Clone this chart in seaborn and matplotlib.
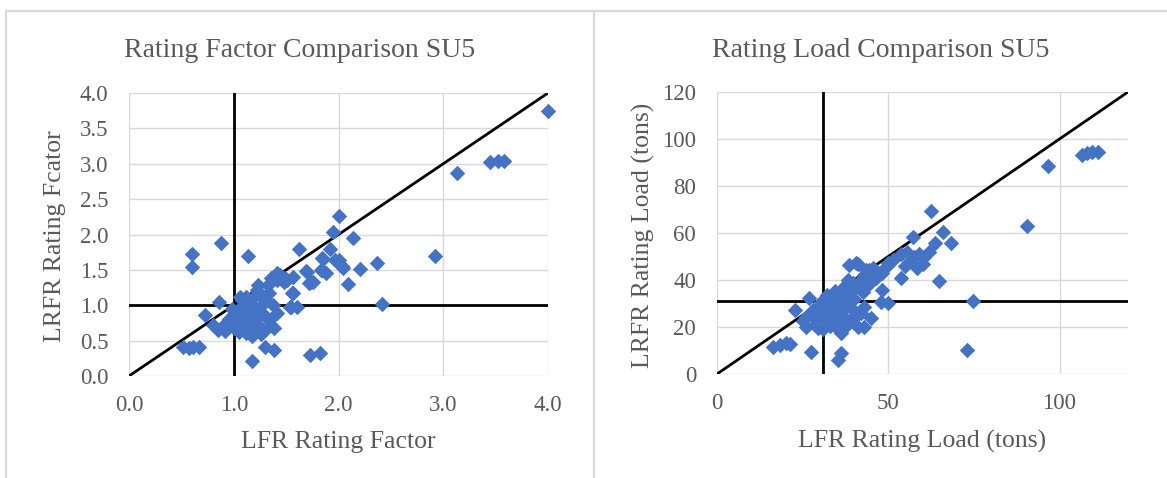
import matplotlib
matplotlib.use("Agg")
import matplotlib.pyplot as plt
from matplotlib.lines import Line2D
import seaborn as sns
import pandas as pd

# ---- Rating factor comparison (LFR vs LRFR) ----
rf_lfr = [4.00, 3.45, 3.52, 3.58, 3.13, 2.92, 2.42, 2.37, 2.21, 2.14, 2.09, 2.04,
          2.00, 2.00, 1.95, 1.92, 1.88, 1.84, 1.84, 1.82, 1.73, 1.76, 1.72, 1.69,
          1.62, 1.60, 1.54, 1.57, 1.57, 1.51, 1.48, 1.41, 1.36, 1.33, 1.38, 1.30,
          1.17, 1.14, 0.88, 0.60, 0.60, 0.86, 0.73, 0.52, 0.57, 0.61, 0.67,
          0.80, 0.85, 0.92, 0.98, 1.03, 1.07, 1.12, 1.17, 1.23, 1.30, 1.36, 1.34,
          1.41, 1.31, 1.22, 1.15, 1.08, 1.12, 1.22, 1.23, 1.30, 1.34, 1.41, 1.44,
          1.49, 1.55, 1.56, 1.70, 1.74, 1.83, 1.85, 1.97, 2.03,
          0.95, 1.00, 1.05, 1.10, 1.15, 1.18, 0.90, 0.94, 1.00, 1.05, 1.10, 1.20,
          1.26, 1.28, 1.38, 1.25, 1.19, 1.06, 1.12, 1.27, 1.37, 1.02, 0.98, 1.13,
          1.18]
rf_lrfr = [3.74, 3.02, 3.04, 3.04, 2.87, 1.70, 1.02, 1.60, 1.51, 1.95, 1.30, 1.52,
           1.64, 2.26, 2.04, 1.80, 1.45, 1.67, 1.50, 0.33, 0.30, 1.33, 1.32, 1.49,
           1.80, 0.98, 0.98, 1.18, 1.40, 1.36, 1.33, 1.45, 1.38, 1.29, 0.37, 0.41,
           0.21, 1.69, 1.88, 1.73, 1.54, 1.05, 0.86, 0.41, 0.40, 0.41, 0.41,
           0.72, 0.65, 0.63, 0.72, 0.79, 0.70, 0.61, 0.56, 0.72, 0.65, 0.72, 0.79,
           0.89, 0.83, 0.89, 0.92, 1.07, 1.12, 1.22, 1.29, 1.07, 1.17, 1.36, 1.43,
           1.38, 0.98, 1.18, 1.47, 1.33, 1.50, 1.66, 1.64, 1.55,
           0.80, 0.88, 0.95, 1.00, 1.05, 1.10, 0.70, 0.75, 0.68, 0.62, 0.75, 0.80,
           0.60, 0.88, 0.68, 1.15, 0.97, 1.11, 0.88, 1.00, 1.00, 0.90, 0.95, 0.80,
           0.68]

# ---- Rating load comparison (tons) ----
load_lfr = [106.5, 108.0, 109.5, 111.2, 96.6, 90.5, 74.7, 73.1, 68.4, 66.1, 64.8,
            63.6, 62.4, 62.0, 60.5, 59.0, 58.5, 57.1, 56.1, 55.6, 53.7, 53.7, 49.8,
            48.3, 48.3, 47.9, 49.8, 46.4, 44.5, 43.0, 40.6, 38.6, 41.9, 39.6, 37.7,
            36.7, 35.7, 33.8, 33.3, 31.9, 27.0, 22.7, 27.9, 26.0, 26.0, 29.4, 27.5,
            16.4, 18.3, 20.1, 21.2, 35.3, 36.2, 33.8, 36.2, 34.8, 39.1, 41.1, 43.0,
            42.0, 43.0, 39.6, 37.7, 38.6, 38.2, 40.6, 43.5, 45.5, 49.3, 41.1,
            30.5, 31.5, 32.5, 33.0, 34.0, 35.0, 36.5, 37.5, 29.0, 28.5, 31.0, 32.0,
            34.5, 35.5, 36.0, 38.0, 40.0, 42.5, 44.0, 30.0, 33.0, 37.0, 40.5, 27.5,
            25.0, 45.0, 46.5, 51.5, 55.0, 60.0, 57.5, 30.5]
load_lrfr = [93.2, 93.9, 94.6, 94.6, 88.5, 63.1, 31.1, 10.2, 55.9, 60.6, 39.6,
             55.6, 69.5, 52.1, 49.9, 51.0, 45.0, 58.4, 47.8, 52.0, 50.9, 40.7, 47.1,
             42.8, 35.7, 30.8, 30.1, 43.5, 44.2, 42.1, 47.4, 46.4, 40.1, 38.7, 38.0,
             36.5, 33.7, 33.7, 31.6, 27.2, 32.2, 27.2, 27.2, 24.4, 20.2, 19.4, 9.5,
             11.6, 12.3, 13.0, 12.7, 6.0, 8.8, 23.0, 17.3, 20.2, 23.0, 20.2, 20.2,
             25.9, 28.7, 27.2, 31.5, 34.4, 40.1, 37.2, 44.2, 45.0, 45.7, 46.8,
             25.0, 29.0, 22.0, 26.0, 29.0, 25.5, 28.0, 24.0, 23.5, 21.0, 19.0, 33.5,
             35.5, 31.0, 22.5, 29.5, 32.0, 35.0, 38.0, 29.5, 20.5, 19.5, 24.5, 25.5,
             22.5, 24.0, 41.0, 48.5, 46.0, 47.0, 50.0, 30.5]

rf_ref = 1.0          # rating factor threshold
load_ref = 31.0       # rating load threshold (tons)
rf_ticks_x = [0.0, 1.0, 2.0, 3.0, 4.0]
rf_ticks_y = [0.0, 0.5, 1.0, 1.5, 2.0, 2.5, 3.0, 3.5, 4.0]
load_ticks_x = [0, 50, 100]
load_ticks_y = [0, 20, 40, 60, 80, 100, 120]

sns.set_style("white")
plt.rcParams["font.family"] = ["Liberation Serif", "DejaVu Serif"]

TEXT = "#595959"
GRID = "#d9d9d9"
BLUE = "#4472C4"

W, H = 1167, 478
fig = plt.figure(figsize=(W / 100, H / 100), dpi=100)

ax1 = fig.add_axes([129 / W, 1 - 376 / H, 419 / W, 283 / H])
ax2 = fig.add_axes([717 / W, 1 - 374 / H, 411 / W, 282 / H])

df_rf = pd.DataFrame({"lfr": rf_lfr, "lrfr": rf_lrfr})
df_load = pd.DataFrame({"lfr": load_lfr, "lrfr": load_lrfr})


def style_axes(ax, xlim, ylim, xticks, yticks, xfmt, yfmt):
    ax.set_xlim(*xlim)
    ax.set_ylim(*ylim)
    ax.set_xticks(xticks)
    ax.set_yticks(yticks)
    ax.set_xticklabels([xfmt.format(v) for v in xticks])
    ax.set_yticklabels([yfmt.format(v) for v in yticks])
    ax.grid(True, color=GRID, linewidth=1.0, zorder=0)
    ax.set_axisbelow(True)
    for s in ax.spines.values():
        s.set_visible(False)
    ax.tick_params(axis="both", length=0, labelsize=16.5, colors=TEXT)
    ax.tick_params(axis="x", pad=14)
    ax.tick_params(axis="y", pad=15)
    ax.set_xlabel("")
    ax.set_ylabel("")


for ax, df, ref, lim in [(ax1, df_rf, rf_ref, 4.0), (ax2, df_load, load_ref, 120)]:
    ax.axhline(ref, color="black", linewidth=2.0, zorder=2)
    ax.axvline(ref, color="black", linewidth=2.0, zorder=2)
    ax.plot([0, lim], [0, lim], color="black", linewidth=2.0, zorder=2)
    sns.scatterplot(data=df, x="lfr", y="lrfr", ax=ax, marker="D", s=62,
                    color=BLUE, linewidth=0, zorder=3, legend=False,
                    clip_on=False)

style_axes(ax1, (0, 4), (0, 4), rf_ticks_x, rf_ticks_y, "{:.1f}", "{:.1f}")
style_axes(ax2, (0, 120), (0, 120), load_ticks_x, load_ticks_y, "{:d}", "{:d}")

# Titles and axis labels
fig.text(300 / W, 1 - 57 / H, "Rating Factor Comparison SU5", ha="center",
         va="baseline", fontsize=20, color=TEXT)
fig.text(881 / W, 1 - 57 / H, "Rating Load Comparison SU5", ha="center",
         va="baseline", fontsize=20, color=TEXT)
fig.text(338 / W, 1 - 448 / H, "LFR Rating Factor", ha="center",
         va="baseline", fontsize=18.5, color=TEXT)
fig.text(922 / W, 1 - 448 / H, "LFR Rating Load (tons)", ha="center",
         va="baseline", fontsize=18.5, color=TEXT)
fig.text(55 / W, 1 - 236 / H, "LRFR Rating Fcator", ha="center", va="center",
         rotation=90, fontsize=18.5, color=TEXT)
fig.text(643 / W, 1 - 235 / H, "LRFR Rating Load (tons)", ha="center",
         va="center", rotation=90, fontsize=18.5, color=TEXT)

# Chart frame borders
for (x0, y0, x1, y1) in [(6, 10.5, W, 10.5), (6, 10.5, 6, H), (594, 10.5, 594, H)]:
    fig.add_artist(Line2D([x0 / W, x1 / W], [1 - y0 / H, 1 - y1 / H],
                          transform=fig.transFigure, color=GRID, linewidth=1.6))

fig.savefig("out.png", dpi=100, facecolor="white")
